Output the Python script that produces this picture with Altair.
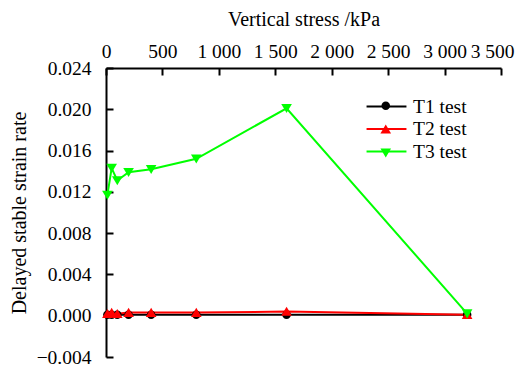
import altair as alt
import pandas as pd

stress = [12.5, 50, 100, 200, 400, 800, 1600, 3200]
series = ["T1 test", "T2 test", "T3 test"]
t1 = [0.0001, 0.0001, 0.0001, 0.0001, 0.0001, 0.0001, 0.0001, 0.0001]
t2 = [0.0002, 0.0003, 0.0002, 0.0003, 0.0003, 0.0003, 0.0004, 0.0001]
t3 = [0.0117, 0.0143, 0.0131, 0.0139, 0.0142, 0.0152, 0.0201, 0.0002]
colors = ["#000000", "#ff0000", "#00ff00"]
# marker outlines: circle, triangle-up, triangle-down
shapes = [
    "M0.45,0A0.45,0.45,0,1,1,-0.45,0A0.45,0.45,0,1,1,0.45,0Z",
    "M0,-0.5L0.56,0.45L-0.56,0.45Z",
    "M0,0.5L0.56,-0.45L-0.56,-0.45Z",
]
x_ticks = [0, 500, 1000, 1500, 2000, 2500, 3000, 3500]
y_ticks = [-0.004, 0.0, 0.004, 0.008, 0.012, 0.016, 0.020, 0.024]

rows = []
for name, vals in zip(series, [t1, t2, t3]):
    for s, v in zip(stress, vals):
        rows.append({"stress": s, "rate": v, "series": name})
df = pd.DataFrame(rows)

FONT = "Liberation Serif"
W, H = 395, 289
LX, LY = 270, 28
SYM = 361
LAB = 19.5

xs = alt.Scale(domain=[0, 3500], nice=False, zero=False)
ys = alt.Scale(domain=[-0.004, 0.024], nice=False, zero=False)

x_main = alt.X(
    "stress:Q", scale=xs,
    axis=alt.Axis(
        orient="top", values=x_ticks, title="Vertical stress /kPa",
        labelExpr="replace(format(datum.value, ','), ',', ' ')",
        grid=False, ticks=False, labelPadding=7, titlePadding=12, labelFlush=False,
        labelAlign={"condition": {"test": "datum.value == 3500", "value": "right"}, "value": "center"},
        labelOffset={"condition": {"test": "datum.value == 3500", "value": 13}, "value": 0},
        labelFont=FONT, labelFontSize=LAB, labelColor="black",
        titleFont=FONT, titleFontSize=20, titleFontWeight="normal", titleColor="black",
        domainColor="black", domainWidth=2,
    ),
)
y_main = alt.Y(
    "rate:Q", scale=ys,
    axis=alt.Axis(
        orient="left", values=y_ticks, title="Delayed stable strain rate",
        labelExpr="replace(format(datum.value, '.3f'), '-', '\u2212')",
        grid=False, ticks=False, labelPadding=15, titlePadding=7, labelFlush=False,
        labelFont=FONT, labelFontSize=LAB, labelColor="black",
        titleFont=FONT, titleFontSize=20, titleFontWeight="normal", titleColor="black",
        domainColor="black", domainWidth=2,
    ),
)
x_tick = alt.X(
    "stress:Q", scale=xs,
    axis=alt.Axis(
        orient="bottom", offset=-H, values=x_ticks, title=None, labels=False,
        domain=False, grid=False, tickSize=7, tickWidth=2, tickColor="black",
    ),
)
y_tick = alt.Y(
    "rate:Q", scale=ys,
    axis=alt.Axis(
        orient="right", offset=-W, values=y_ticks, title=None, labels=False,
        domain=False, grid=False, tickSize=7, tickWidth=2, tickColor="black",
    ),
)
color_scale = alt.Scale(domain=series, range=colors)

common_legend = dict(
    title=None, orient="none", legendX=LX, legendY=LY, padding=0,
    labelFont=FONT, labelFontSize=LAB, labelColor="black",
    symbolSize=SYM, labelOffset=16, rowPadding=2.5,
)

lines = alt.Chart(df).mark_line(strokeWidth=2).encode(
    x=x_main, y=y_main,
    color=alt.Color(
        "series:N", scale=color_scale,
        legend=alt.Legend(
            symbolType="M-2.1,0H2.1", symbolStrokeWidth=2, zindex=1,
            **common_legend,
        ),
    ),
    order="stress:Q",
)
points = alt.Chart(df).mark_point(filled=True, size=SYM, opacity=1).encode(
    x=x_tick, y=y_tick,
    color=alt.Color(
        "series:N", scale=color_scale,
        legend=alt.Legend(
            labelOpacity=0, symbolOpacity=1, symbolStrokeWidth=0, zindex=2,
            **common_legend,
        ),
    ),
    shape=alt.Shape("series:N", scale=alt.Scale(domain=series, range=shapes)),
)

chart = alt.layer(lines, points).resolve_scale(
    color="independent", shape="independent"
).resolve_axis(
    x="independent", y="independent"
).properties(
    width=W, height=H,
    autosize=alt.AutoSizeParams(type="none"),
    padding={"left": 98, "top": 60, "right": 14, "bottom": 12},
).configure(background="white").configure_view(stroke=None).configure_axis(
    labelFont=FONT, titleFont=FONT,
).configure_legend(labelFont=FONT)

chart.save("out.html", embed_options={"renderer": "svg", "actions": False})
